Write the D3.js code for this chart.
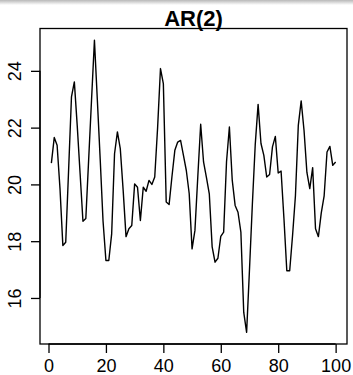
<!DOCTYPE html>
<html>
<head>
<meta charset="utf-8">
<script src="https://cdn.jsdelivr.net/npm/d3@7"></script>
<style>
  html, body { margin: 0; padding: 0; background: #fff; }
  svg { display: block; font-family: "Liberation Sans", Arial, Helvetica, sans-serif; }
</style>
</head>
<body>
<div id="chart"></div>
<script>
// AR(2) simulated series
const title = 'AR(2)';
const series = [
  20.75, 21.65, 21.38, 19.86, 17.85, 17.96, 20.5, 23.08, 23.61, 22.08,
  20.39, 18.7, 18.8, 20.9, 23.0, 25.08, 23.0, 20.9, 18.7, 17.32,
  17.32, 18.26, 21.08, 21.85, 21.26, 19.8, 18.16, 18.44, 18.55, 20.02,
  19.9, 18.73, 19.9, 19.76, 20.14, 20.0, 20.26, 22.0, 24.08, 23.55,
  19.38, 19.29, 20.28, 21.2, 21.49, 21.55, 21.02, 20.49, 19.68, 17.73,
  18.38, 20.28, 22.12, 20.79, 20.25, 19.67, 17.8, 17.26, 17.4, 18.17,
  18.32, 20.8, 22.02, 20.14, 19.26, 19.02, 18.32, 15.49, 14.79, 17.0,
  19.3, 21.4, 22.82, 21.44, 21.02, 20.26, 20.35, 21.32, 21.69, 20.4,
  20.47, 18.8, 16.96, 16.96, 18.2, 19.6, 22.08, 22.94, 21.9, 20.42,
  19.85, 20.59, 18.44, 18.16, 19.0, 19.6, 21.14, 21.34, 20.67, 20.79
];
const xTicks = [0, 20, 40, 60, 80, 100];
const yTicks = [16, 18, 20, 22, 24];

const width = 353, height = 375;
const plot = { left: 40, right: 347, top: 28.5, bottom: 344 };

const data = series.map((v, i) => ({ t: i + 1, v: v }));

// R style axis range: data range padded by 4% on each side
function pad(ext) {
  const d = (ext[1] - ext[0]) * 0.04;
  return [ext[0] - d, ext[1] + d];
}

const x = d3.scaleLinear()
  .domain(pad(d3.extent(data, d => d.t)))
  .range([plot.left, plot.right]);

const y = d3.scaleLinear()
  .domain(pad(d3.extent(data, d => d.v)))
  .range([plot.bottom, plot.top]);

const svg = d3.select('#chart')
  .append('svg')
  .attr('width', width)
  .attr('height', height);

// faint grey shade along the top edge, as in the screenshot
const grad = svg.append('defs').append('linearGradient')
  .attr('id', 'topShade')
  .attr('x1', 0).attr('y1', 0).attr('x2', 0).attr('y2', 1);
grad.append('stop').attr('offset', '0%').attr('stop-color', '#b8b8b8');
grad.append('stop').attr('offset', '100%').attr('stop-color', '#ffffff');
svg.append('rect')
  .attr('x', 0).attr('y', 0)
  .attr('width', width).attr('height', 5)
  .attr('fill', 'url(#topShade)');

// series line
const line = d3.line()
  .x(d => x(d.t))
  .y(d => y(d.v));

svg.append('path')
  .datum(data)
  .attr('fill', 'none')
  .attr('stroke', '#000')
  .attr('stroke-width', 1.4)
  .attr('stroke-linejoin', 'round')
  .attr('d', line);

// x axis
const xAxis = svg.append('g')
  .attr('transform', `translate(0,${plot.bottom})`)
  .call(d3.axisBottom(x).tickValues(xTicks).tickSize(9).tickSizeOuter(0).tickPadding(6));

xAxis.select('.domain')
  .attr('d', `M${x(xTicks[0])},0H${x(xTicks[xTicks.length - 1])}`)
  .attr('stroke-width', 1.3);
xAxis.selectAll('.tick line').attr('stroke-width', 1.3);
xAxis.selectAll('.tick text')
  .attr('font-size', 18)
  .attr('font-family', '"Liberation Sans", Arial, sans-serif')
  .attr('fill', '#000')
  .attr('dy', null)
  .attr('y', 27.5);

// y axis
const yAxis = svg.append('g')
  .attr('transform', `translate(${plot.left},0)`)
  .call(d3.axisLeft(y).tickValues(yTicks).tickSize(9).tickSizeOuter(0));

yAxis.select('.domain')
  .attr('d', `M0,${y(yTicks[0])}V${y(yTicks[yTicks.length - 1])}`)
  .attr('stroke-width', 1.3);
yAxis.selectAll('.tick line').attr('stroke-width', 1.3);
yAxis.selectAll('.tick text')
  .attr('font-size', 18)
  .attr('font-family', '"Liberation Sans", Arial, sans-serif')
  .attr('fill', '#000')
  .attr('x', null)
  .attr('dy', null)
  .attr('text-anchor', 'middle')
  .attr('transform', 'translate(-19,0) rotate(-90)');

// plot box
svg.append('rect')
  .attr('x', plot.left)
  .attr('y', plot.top)
  .attr('width', plot.right - plot.left)
  .attr('height', plot.bottom - plot.top)
  .attr('fill', 'none')
  .attr('stroke', '#000')
  .attr('stroke-width', 1.3);

// title
svg.append('text')
  .attr('x', (plot.left + plot.right) / 2)
  .attr('y', 26)
  .attr('text-anchor', 'middle')
  .attr('font-size', 22)
  .attr('font-weight', 'bold')
  .attr('fill', '#000')
  .text(title);
</script>
</body>
</html>
